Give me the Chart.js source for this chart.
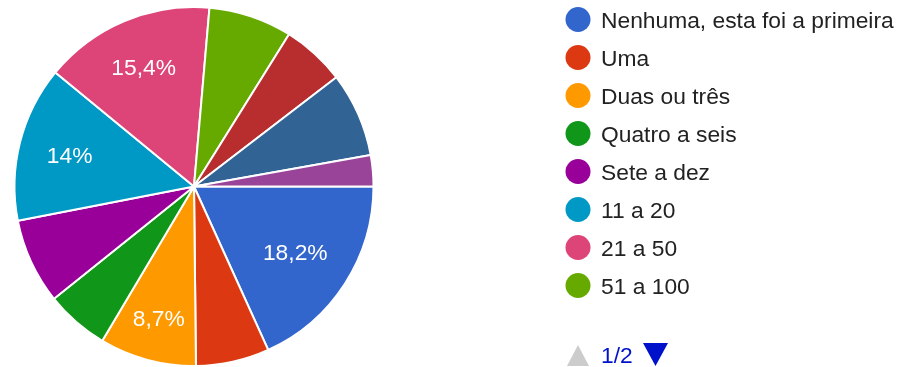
<!DOCTYPE html>
<html>
<head>
<meta charset="utf-8">
<script src="https://cdn.jsdelivr.net/npm/chart.js@4"></script>
<style>
  html, body { margin: 0; padding: 0; background: #fff; }
  #wrap { position: relative; width: 911px; height: 367px; }
</style>
</head>
<body>
<div id="wrap"><canvas id="pieChart" width="911" height="367"></canvas></div>
<script>
// answers per category, in percent
const categories = ['Nenhuma, esta foi a primeira', 'Uma', 'Duas ou três', 'Quatro a seis', 'Sete a dez',
                    '11 a 20', '21 a 50', '51 a 100', '101 a 200', '201 a 500', 'Mais de 500'];
const percentages = [18.2, 6.6, 8.7, 5.7, 7.7, 14, 15.4, 7.5, 5.7, 7.6, 2.8];
const sliceColors = ['#3366cc', '#dc3912', '#ff9900', '#109618', '#990099', '#0099c6',
                     '#dd4477', '#66aa00', '#b82e2e', '#316395', '#994499'];
const legendPageSize = 8;
const pageLabel = '1/2';

const FONT = '22.8px "Liberation Sans", Arial, sans-serif';

function formatPct(v) {
    return String(v).replace('.', ',') + '%';
}

// white percentage text inside the larger slices; the text box is pushed
// outward along the slice's middle until its far corner reaches 0.85 * R
const sliceLabels = {
    id: 'sliceLabels',
    afterDatasetsDraw(chart) {
        const ctx = chart.ctx;
        const meta = chart.getDatasetMeta(0);
        ctx.save();
        ctx.font = FONT;
        ctx.fillStyle = '#ffffff';
        ctx.textAlign = 'center';
        ctx.textBaseline = 'alphabetic';
        meta.data.forEach((arc, i) => {
            const v = chart.data.datasets[0].data[i];
            if (v < 8) return;
            const txt = formatPct(v);
            const w = ctx.measureText(txt).width;
            const h = 17;
            const mid = (arc.startAngle + arc.endAngle) / 2;
            const a = Math.abs(Math.cos(mid));
            const b = Math.abs(Math.sin(mid));
            const D = arc.outerRadius * 0.85;
            const p = a * w + b * h;
            const q = (w * w + h * h) / 4 - D * D;
            const r = (-p + Math.sqrt(p * p - 4 * q)) / 2;
            const x = arc.x + Math.cos(mid) * r;
            const y = arc.y + Math.sin(mid) * r;
            ctx.fillText(txt, x, y + 8.3);
        });
        ctx.restore();
    }
};

// first page of the legend + the little pager underneath
const pagedLegend = {
    id: 'pagedLegend',
    afterDraw(chart) {
        const ctx = chart.ctx;
        const left = 578;
        const top = 20;
        const step = 38;
        ctx.save();
        ctx.font = FONT;
        ctx.textBaseline = 'alphabetic';
        ctx.textAlign = 'left';
        for (let i = 0; i < legendPageSize && i < categories.length; i++) {
            const y = top + i * step;
            ctx.fillStyle = sliceColors[i];
            ctx.beginPath();
            ctx.arc(left, y - 0.5, 12.5, 0, Math.PI * 2);
            ctx.fill();
            ctx.fillStyle = '#222222';
            ctx.fillText(categories[i], left + 23, y + 8.3);
        }

        const py = 355;
        // up arrow (disabled, first page)
        ctx.fillStyle = '#cccccc';
        ctx.beginPath();
        ctx.moveTo(567, py + 11);
        ctx.lineTo(589, py + 11);
        ctx.lineTo(578, py - 10);
        ctx.closePath();
        ctx.fill();

        ctx.fillStyle = '#0011cc';
        ctx.fillText(pageLabel, 601, py + 8);

        // down arrow
        ctx.beginPath();
        ctx.moveTo(643, py - 12);
        ctx.lineTo(668, py - 12);
        ctx.lineTo(655.5, py + 11);
        ctx.closePath();
        ctx.fill();
        ctx.restore();
    }
};

const ctx = document.getElementById('pieChart').getContext('2d');
const pieChart = new Chart(ctx, {
    type: 'pie',
    data: {
        labels: categories,
        datasets: [{
            data: percentages,
            backgroundColor: sliceColors,
            borderColor: '#ffffff',
            borderWidth: 2
        }]
    },
    options: {
        responsive: false,
        animation: false,
        rotation: 90,
        layout: {
            padding: { left: 13, right: 536, top: 6, bottom: 0 }
        },
        plugins: {
            legend: { display: false },
            tooltip: { enabled: false }
        }
    },
    plugins: [sliceLabels, pagedLegend]
});
</script>
</body>
</html>
